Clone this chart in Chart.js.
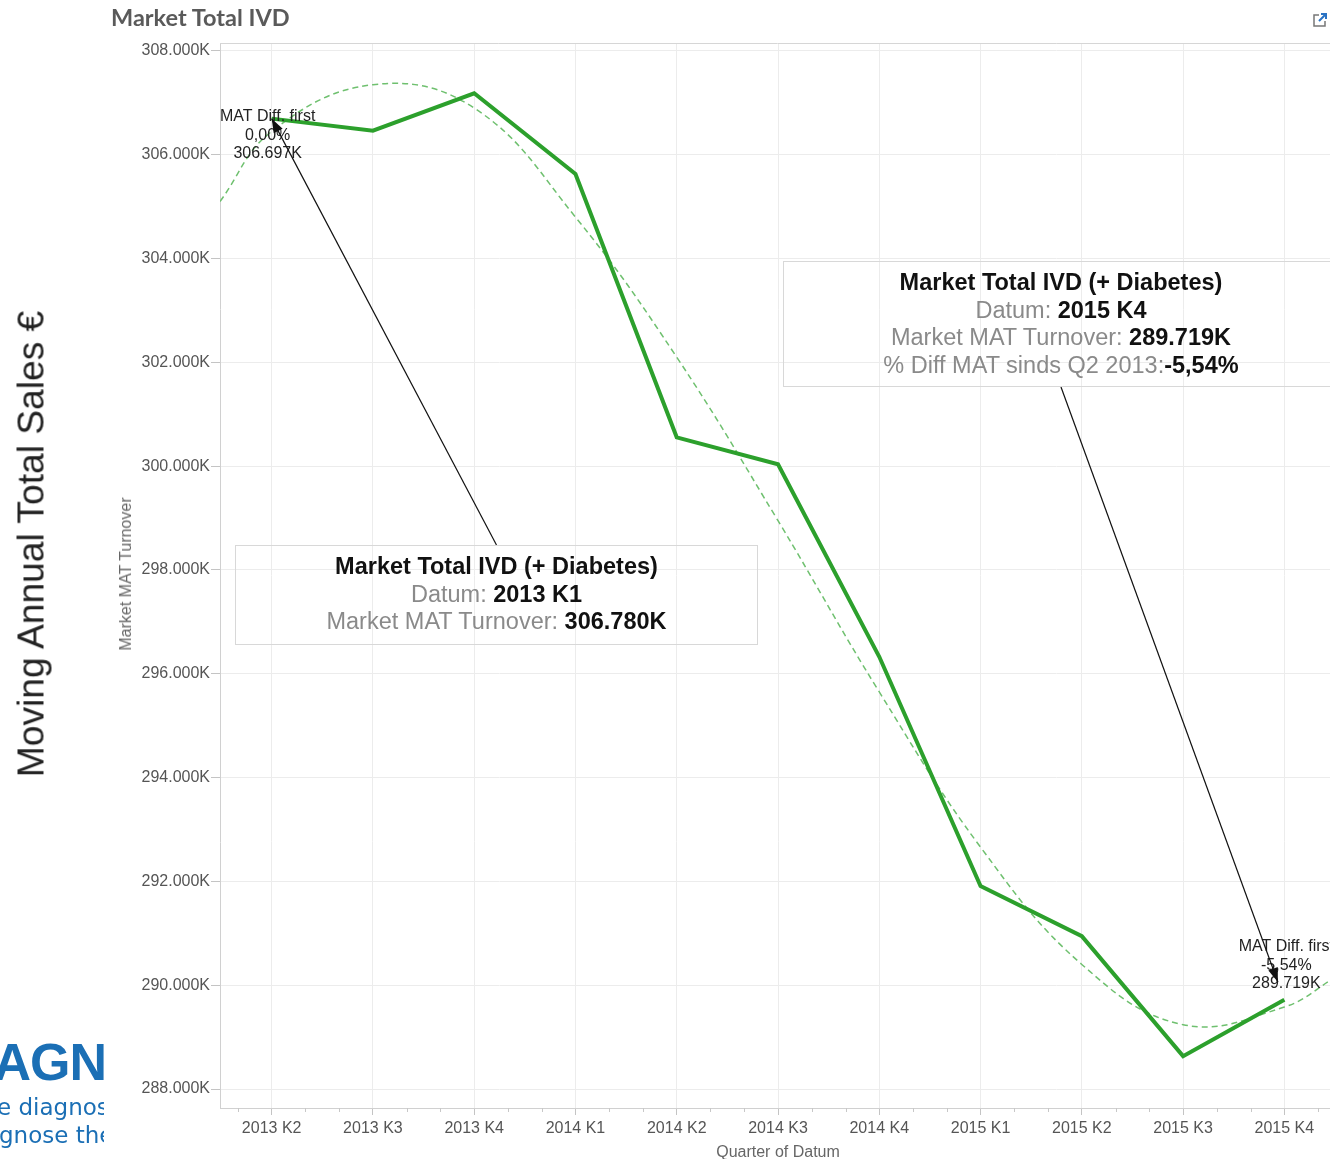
<!DOCTYPE html>
<html>
<head>
<meta charset="utf-8">
<title>Market Total IVD</title>
<script src="https://cdn.jsdelivr.net/npm/chart.js@4.4.1/dist/chart.umd.min.js"></script>
<style>
    body {
        margin: 0;
        width: 1330px;
        height: 1159px;
        overflow: hidden;
        background: #fff;
        position: relative;
        font-family: "Liberation Sans", Arial, sans-serif;
    }
    #wrap { position: absolute; left: 0; top: 0; width: 1345px; height: 1159px; }
    .title { position: absolute; left: 111px; top: 3px; font: bold 23.5px Lato, sans-serif; color: #5a5a5a; }
    .big-y {
        position: absolute; left: 31px; top: 544px;
        transform: translate(-50%, -50%) rotate(-90deg);
        font-size: 37.2px; color: #222; white-space: nowrap;
    }
    .small-y {
        position: absolute; left: 126px; top: 574px;
        transform: translate(-50%, -50%) rotate(-90deg);
        font-size: 16px; color: #666; white-space: nowrap;
    }
    .x-title { position: absolute; left: 778px; top: 1143px; transform: translateX(-50%); font-size: 16px; color: #666; white-space: nowrap; }
    .note-box {
        position: absolute; box-sizing: border-box;
        border: 1px solid #d8d8d8; text-align: center;
        font-size: 23.5px; line-height: 27.5px; padding-top: 7px; color: #8a8a8a; white-space: nowrap;
    }
    .note-box b { color: #111; }
    .logo { position: absolute; left: 0; top: 1030px; width: 104px; height: 129px; overflow: hidden; color: #1b6fb5; }
    .logo div { position: absolute; white-space: nowrap; }
    .logo .l1 { right: -2px; top: 2px; font: bold 52px "Liberation Sans", Arial, sans-serif; letter-spacing: -1px; }
    .logo .l2 { left: -3px; top: 64px; font: 23px "DejaVu Sans", sans-serif; }
    .logo .l3 { left: -1px; top: 92px; font: 23px "DejaVu Sans", sans-serif; }
    .ext { position: absolute; left: 1312px; top: 12px; }
</style>
</head>
<body>
<div id="wrap"><canvas id="chart-line" width="1345" height="1159"></canvas></div>
<div class="title">Market Total IVD</div>
<div class="big-y">Moving Annual Total Sales €</div>
<div class="small-y">Market MAT Turnover</div>
<div class="x-title">Quarter of Datum</div>
<div class="logo"><div class="l1">AGN</div><div class="l2">e diagnos</div><div class="l3">gnose the</div></div>
<svg class="ext" width="16" height="16" viewBox="0 0 16 16">
    <path d="M7 3H2v11h11V9" fill="none" stroke="#777" stroke-width="1.5"/>
    <path d="M7 9l6-6M9 2h5v5" fill="none" stroke="#2a73c4" stroke-width="2"/>
</svg>
<script>
// data
var quarters = ["2013 K2", "2013 K3", "2013 K4", "2014 K1", "2014 K2", "2014 K3",
    "2014 K4", "2015 K1", "2015 K2", "2015 K3", "2015 K4"];
var matTurnover = [306697, 306464, 307185, 305630, 300556, 300036, 296328, 291910, 290946, 288633, 289719];
// dashed trend line, read at each quarter plus both plot edges
var trendPos = [-0.51, 0, 1, 2, 3, 4, 5, 6, 7, 8, 9, 10, 10.5];
var trendValues = [305100, 306450, 307350, 306900, 304800, 302100, 298950, 295650, 292660, 290400, 289240, 289580, 290150];
var yTicks = [288000, 290000, 292000, 294000, 296000, 298000, 300000, 302000, 304000, 306000, 308000];
var firstQuarterLabel = "2013 K1";
var firstQuarterValue = "306.780K";

function fmtK(v) { return (v / 1000).toFixed(3) + 'K'; }
function fmtPct(v) { return ((v / matTurnover[0] - 1) * 100).toFixed(2).replace('.', ',') + '%'; }

var last = matTurnover.length - 1;

// tooltip-like boxes
var boxes = [
    { left: 235, top: 545, width: 523, height: 100, index: 0, gap: 0, from: 'top',
      lines: ['<b>Market Total IVD (+ Diabetes)</b>',
              'Datum: <b>' + firstQuarterLabel + '</b>',
              'Market MAT Turnover: <b>' + firstQuarterValue + '</b>'] },
    { left: 783, top: 261, width: 556, height: 126, index: last, gap: 19, from: 'bottom',
      lines: ['<b>Market Total IVD (+ Diabetes)</b>',
              'Datum: <b>' + quarters[last] + '</b>',
              'Market MAT Turnover: <b>' + fmtK(matTurnover[last]) + '</b>',
              '% Diff MAT sinds Q2 2013:<b>' + fmtPct(matTurnover[last]) + '</b>'] }
];
boxes.forEach(function (b) {
    var el = document.createElement('div');
    el.className = 'note-box';
    el.style.left = b.left + 'px';
    el.style.top = b.top + 'px';
    el.style.width = b.width + 'px';
    el.style.height = b.height + 'px';
    el.innerHTML = b.lines.join('<br>');
    document.body.appendChild(el);
});

// mark labels next to the first and last points
var markLabels = [
    { index: 0, dx: -4, dy: -2 },
    { index: last, dx: 2, dy: -53 }
];

var notes = {
    id: 'notes',
    afterDatasetsDraw: function (chart) {
        var c = chart.ctx, xs = chart.scales.x, ys = chart.scales.y, area = chart.chartArea;
        c.save();
        // frame top line
        c.strokeStyle = '#d6d6d6';
        c.lineWidth = 1;
        c.beginPath();
        c.moveTo(area.left, area.top + 0.5);
        c.lineTo(area.right, area.top + 0.5);
        c.stroke();
        // month ticks between quarters
        c.strokeStyle = '#c8c8c8';
        c.beginPath();
        for (var i = -1; i <= quarters.length; i++) {
            [1 / 3, 2 / 3].forEach(function (f) {
                var v = i + f;
                if (v < xs.min || v > xs.max) return;
                var px = Math.round(xs.getPixelForValue(v)) + 0.5;
                c.moveTo(px, area.bottom);
                c.lineTo(px, area.bottom + 4);
            });
        }
        c.stroke();

        // labels
        c.font = "16px 'Liberation Sans', Arial, sans-serif";
        c.fillStyle = '#222';
        c.textAlign = 'center';
        c.textBaseline = 'middle';
        markLabels.forEach(function (m) {
            var v = matTurnover[m.index];
            var px = xs.getPixelForValue(m.index) + m.dx;
            var py = ys.getPixelForValue(v) + m.dy;
            ['MAT Diff. first', fmtPct(v), fmtK(v)].forEach(function (t, k) {
                c.fillText(t, px, py + k * 18.5);
            });
        });

        // arrows from boxes to points
        c.strokeStyle = '#111';
        c.fillStyle = '#111';
        boxes.forEach(function (b) {
            var sx = b.left + b.width / 2;
            var sy = b.from === 'top' ? b.top : b.top + b.height;
            var tx = xs.getPixelForValue(b.index);
            var ty = ys.getPixelForValue(matTurnover[b.index]);
            var ang = Math.atan2(ty - sy, tx - sx);
            tx -= Math.cos(ang) * b.gap;
            ty -= Math.sin(ang) * b.gap;
            c.lineWidth = 1.2;
            c.beginPath();
            c.moveTo(sx, sy);
            c.lineTo(tx, ty);
            c.stroke();
            c.beginPath();
            c.moveTo(tx, ty);
            c.lineTo(tx - 14 * Math.cos(ang) + 5 * Math.sin(ang), ty - 14 * Math.sin(ang) - 5 * Math.cos(ang));
            c.lineTo(tx - 14 * Math.cos(ang) - 5 * Math.sin(ang), ty - 14 * Math.sin(ang) + 5 * Math.cos(ang));
            c.closePath();
            c.fill();
        });
        c.restore();
    }
};

var ctx1 = document.getElementById("chart-line").getContext("2d");
new Chart(ctx1, {
    type: "line",
    data: {
        datasets: [{
            label: "Market MAT Turnover",
            data: matTurnover.map(function (v, i) { return { x: i, y: v }; }),
            borderColor: "#2ca02c",
            borderWidth: 4,
            pointRadius: 0,
            tension: 0,
            fill: false
        }, {
            label: "Trend",
            data: trendValues.map(function (v, i) { return { x: trendPos[i], y: v }; }),
            borderColor: "#6fc06f",
            borderWidth: 1.5,
            borderDash: [6, 4],
            pointRadius: 0,
            tension: 0.4,
            fill: false
        }]
    },
    options: {
        responsive: false,
        animation: false,
        devicePixelRatio: 1,
        layout: { padding: { top: 43, right: 10, left: 0, bottom: 0 } },
        plugins: {
            legend: { display: false },
            tooltip: { enabled: false }
        },
        scales: {
            x: {
                type: 'linear',
                min: -0.51,
                max: 10.5,
                afterBuildTicks: function (scale) {
                    scale.ticks = quarters.map(function (q, i) { return { value: i }; });
                },
                afterFit: function (scale) { scale.height = 51; },
                grid: { color: '#ececec', tickColor: '#c4c4c4', tickLength: 7 },
                border: { color: '#d0d0d0' },
                ticks: {
                    autoSkip: false,
                    maxRotation: 0,
                    padding: 4,
                    color: '#555',
                    font: { size: 16, family: "'Liberation Sans', Arial, sans-serif" },
                    callback: function (v) { return quarters[v]; }
                }
            },
            y: {
                min: 287634,
                max: 308154,
                afterBuildTicks: function (scale) {
                    scale.ticks = yTicks.map(function (v) { return { value: v }; });
                },
                afterFit: function (scale) { scale.width = 220; },
                grid: { color: '#ececec', tickColor: '#c4c4c4', tickLength: 9 },
                border: { color: '#d0d0d0' },
                ticks: {
                    padding: 1,
                    color: '#555',
                    font: { size: 16, family: "'Liberation Sans', Arial, sans-serif" },
                    callback: function (v) { return fmtK(v); }
                }
            }
        }
    },
    plugins: [notes]
});
</script>
</body>
</html>
